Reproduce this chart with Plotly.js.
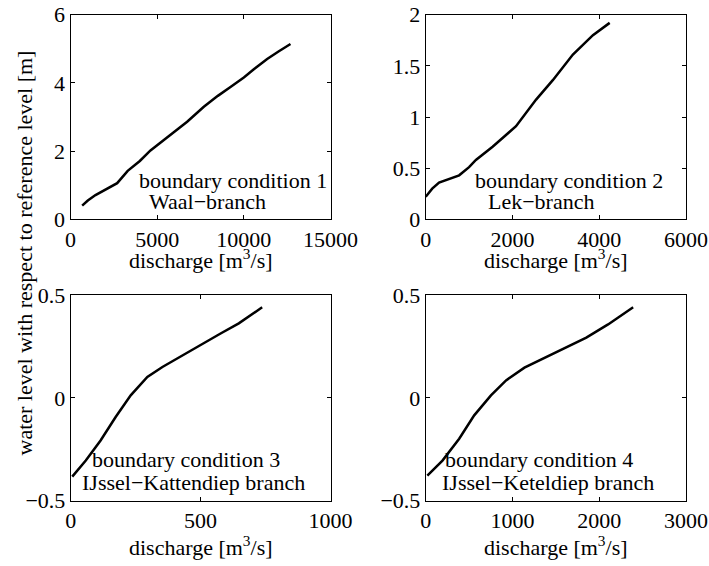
<!DOCTYPE html>
<html>
<head>
<meta charset="utf-8">
<script src="https://cdn.plot.ly/plotly-3.0.1.min.js"></script>
<style>html,body{margin:0;padding:0;background:#fff;}#chart{width:709px;height:566px;}</style>
</head>
<body>
<div id="chart"></div>
<script>
// Panel 1: Waal-branch
const waalQ = [673, 1000, 1442, 2000, 2692, 3300, 4000, 4615, 5400, 6000, 6730, 7692, 8500, 9230, 10000, 10577, 11346, 12000, 12692];
const waalH = [0.40, 0.55, 0.71, 0.86, 1.06, 1.42, 1.71, 2.02, 2.34, 2.57, 2.86, 3.30, 3.62, 3.88, 4.16, 4.40, 4.70, 4.92, 5.14];
// Panel 2: Lek-branch
const lekQ = [0, 150, 308, 500, 771, 1000, 1157, 1542, 2082, 2545, 2930, 3393, 3855, 4241];
const lekH = [0.22, 0.30, 0.36, 0.39, 0.43, 0.51, 0.58, 0.71, 0.91, 1.17, 1.36, 1.61, 1.80, 1.92];
// Panel 3: IJssel-Kattendiep branch
const katQ = [6, 58, 115, 173, 231, 295, 353, 423, 500, 577, 647, 737];
const katH = [-0.383, -0.305, -0.207, -0.093, 0.012, 0.102, 0.150, 0.202, 0.256, 0.313, 0.362, 0.440];
// Panel 4: IJssel-Keteldiep branch
const ketQ = [19, 193, 386, 559, 752, 926, 1138, 1388, 1619, 1851, 2102, 2391];
const ketH = [-0.378, -0.305, -0.199, -0.085, 0.012, 0.085, 0.147, 0.199, 0.248, 0.293, 0.357, 0.440];

const xRanges = [[0, 15000], [0, 6000], [0, 1000], [0, 3000]];
const xTicks = [[0, 5000, 10000, 15000], [0, 2000, 4000, 6000], [0, 500, 1000], [0, 1000, 2000, 3000]];
const yRanges = [[0, 6], [0, 2], [-0.5, 0.5], [-0.5, 0.5]];
const yTicks = [[0, 2, 4, 6], [0, 0.5, 1, 1.5, 2], [-0.5, 0, 0.5], [-0.5, 0, 0.5]];
const yTickText = [["0", "2", "4", "6"], ["0", "0.5", "1", "1.5", "2"], ["\u22120.5", "0", "0.5"], ["\u22120.5", "0", "0.5"]];
const labels1 = ["boundary condition 1", "boundary condition 2", "boundary condition 3", "boundary condition 4"];
const labels2 = ["Waal\u2212branch", "Lek\u2212branch", "IJssel\u2212Kattendiep branch", "IJssel\u2212Keteldiep branch"];
const xTitle = "discharge [m<sup>3</sup>/s]";
const yTitle = "water level with respect to reference level [m]";

const W = 709, H = 566;
// plot areas in pixels [left, right, top, bottom]
const boxes = [[70.5, 330.5, 14.7, 219.3], [425.7, 686, 14.7, 219.3], [70.7, 330.5, 295, 500.7], [425.7, 686, 295, 500.7]];
const lab1Pos = [[0.256, 0.192], [0.183, 0.192], [0.074, 0.198], [0.065, 0.198]];
const lab2Pos = [[0.294, 0.085], [0.232, 0.085], [0.036, 0.0875], [0.055, 0.0875]];
const xTitleY = [259, 259, 546, 546];

const font = {family: "Liberation Serif", size: 22, color: "#000"};
const series = [[waalQ, waalH], [lekQ, lekH], [katQ, katH], [ketQ, ketH]];

const data = [];
const layout = {
  width: W, height: H,
  margin: {l: 0, r: 0, t: 0, b: 0},
  paper_bgcolor: "#fff", plot_bgcolor: "#fff",
  showlegend: false,
  font: font,
  annotations: []
};

series.forEach((s, i) => {
  const n = i + 1;
  const xa = "x" + (n === 1 ? "" : n), ya = "y" + (n === 1 ? "" : n);
  data.push({x: s[0], y: s[1], xaxis: xa, yaxis: ya, type: "scatter", mode: "lines",
             line: {color: "#000", width: 2.5}, hoverinfo: "skip"});
  const b = boxes[i];
  const common = {showgrid: false, zeroline: false, showline: true, linecolor: "#000", linewidth: 1,
                  mirror: "ticks", ticks: "inside", ticklen: 4, tickcolor: "#000", tickwidth: 1,
                  tickfont: font, fixedrange: true};
  layout["xaxis" + (n === 1 ? "" : n)] = Object.assign({}, common, {
    domain: [b[0] / W, b[1] / W], anchor: ya, range: xRanges[i],
    tickmode: "array", tickvals: xTicks[i], ticktext: xTicks[i].map(String)
  });
  layout["yaxis" + (n === 1 ? "" : n)] = Object.assign({}, common, {
    domain: [1 - b[3] / H, 1 - b[2] / H], anchor: xa, range: yRanges[i],
    tickmode: "array", tickvals: yTicks[i], ticktext: yTickText[i]
  });
  layout.annotations.push({text: labels1[i], xref: xa + " domain", yref: ya + " domain",
    x: lab1Pos[i][0], y: lab1Pos[i][1], xanchor: "left", yanchor: "middle", showarrow: false, font: font});
  layout.annotations.push({text: labels2[i], xref: xa + " domain", yref: ya + " domain",
    x: lab2Pos[i][0], y: lab2Pos[i][1], xanchor: "left", yanchor: "middle", showarrow: false, font: font});
  layout.annotations.push({text: xTitle, xref: "paper", yref: "paper",
    x: (b[0] + b[1]) / 2 / W, y: 1 - xTitleY[i] / H, xanchor: "center", yanchor: "middle", showarrow: false, font: font});
});

layout.annotations.push({text: yTitle, xref: "paper", yref: "paper", x: 24 / W, y: 1 - 253.5 / H,
  xanchor: "center", yanchor: "middle", textangle: -90, showarrow: false, font: font});

Plotly.newPlot("chart", data, layout, {displayModeBar: false, staticPlot: true});
</script>
</body>
</html>
